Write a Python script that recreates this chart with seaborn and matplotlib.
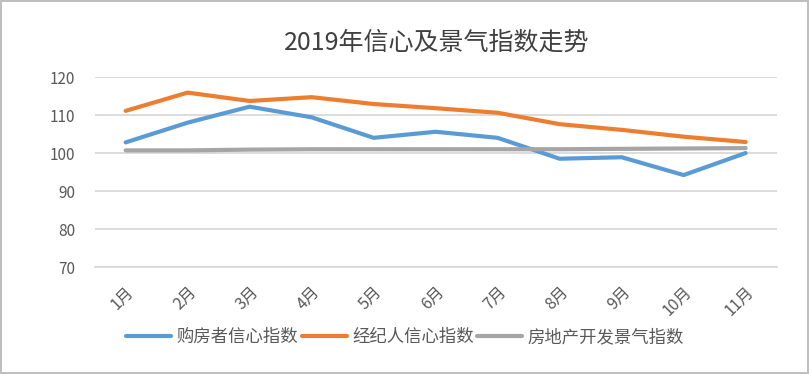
import pandas as pd
import seaborn as sns
import matplotlib.pyplot as plt

months = ['1月', '2月', '3月', '4月', '5月', '6月', '7月', '8月', '9月', '10月', '11月']
buyer_conf = [102.8, 108.0, 112.2, 109.4, 104.0, 105.6, 104.0, 98.5, 98.9, 94.2, 100.0]
agent_conf = [111.1, 115.9, 113.7, 114.7, 112.9, 111.8, 110.6, 107.6, 106.1, 104.3, 102.9]
dev_index = [100.7, 100.7, 100.9, 101.0, 101.0, 101.0, 101.0, 101.0, 101.1, 101.2, 101.3]
series_names = ['购房者信心指数', '经纪人信心指数', '房地产开发景气指数']

sns.set_theme(style='white')
plt.rcParams['font.family'] = ['Noto Sans CJK SC', 'DejaVu Sans']

# long form table for seaborn
df = pd.DataFrame({
    'month': months * 3,
    'value': buyer_conf + agent_conf + dev_index,
    'series': [s for s in series_names for _ in months],
})

fig = plt.figure(figsize=(8.09, 3.74), dpi=100, edgecolor='#BFBFBF', linewidth=1.5)
ax = fig.add_axes([0.117, 0.286, 0.843, 0.508])

palette = ['#5B9BD5', '#ED7D31', '#A5A5A5']
sns.lineplot(data=df, x='month', y='value', hue='series', palette=palette,
             linewidth=3, ax=ax, sort=False)

ax.set_ylim(70, 120)
ax.set_xlim(-0.5, len(months) - 0.5)
ax.set_yticks([70, 80, 90, 100, 110, 120])
ax.grid(axis='y', color='#D9D9D9', linewidth=1.3)
ax.set_axisbelow(True)
for s in ['top', 'right', 'left']:
    ax.spines[s].set_visible(False)
ax.spines['bottom'].set_color('#D9D9D9')
ax.spines['bottom'].set_linewidth(1.3)
ax.tick_params(axis='y', length=0, labelsize=11, colors='#595959', pad=14)
ax.tick_params(axis='x', length=0, labelsize=11.5, colors='#595959', pad=12)
plt.setp(ax.get_xticklabels(), rotation=45, ha='right', rotation_mode='anchor')
ax.set_xlabel('')
ax.set_ylabel('')

fig.text(0.54, 0.885, '2019年信心及景气指数走势', ha='center', va='center',
         fontsize=18, color='#404040')

ax.legend(loc='center', bbox_to_anchor=(0.455, -0.37), ncol=3, frameon=False,
          fontsize=12.5, labelcolor='#595959', handlelength=2.6, handletextpad=0.3,
          columnspacing=0.2)

fig.savefig('out.png', dpi=100, edgecolor=fig.get_edgecolor())
